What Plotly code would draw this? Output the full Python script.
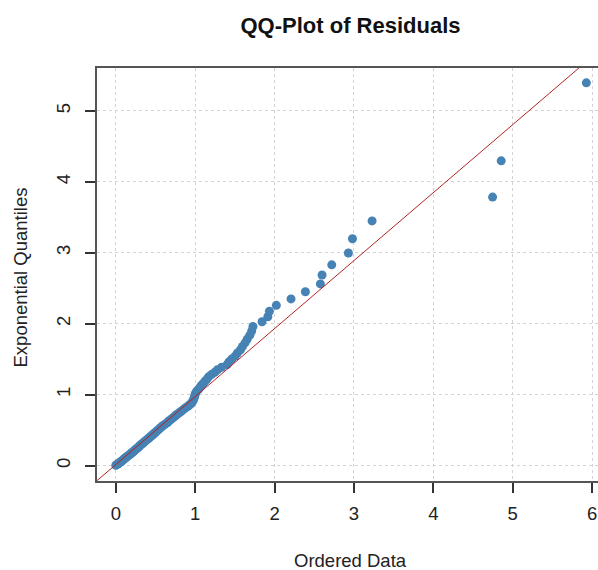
import plotly.graph_objects as go

# Ordered residuals (x) vs theoretical exponential quantiles (y)
ordered_data = [
    0.000, 0.012, 0.025, 0.038, 0.047, 0.058, 0.071, 0.080, 0.092, 0.101,
    0.113, 0.122, 0.135, 0.146, 0.158, 0.170, 0.183, 0.196, 0.205, 0.218,
    0.230, 0.238, 0.252, 0.265, 0.279, 0.290, 0.297, 0.309, 0.322, 0.336,
    0.352, 0.362, 0.376, 0.389, 0.405, 0.417, 0.430, 0.446, 0.462, 0.474,
    0.489, 0.503, 0.519, 0.532, 0.548, 0.563, 0.581, 0.596, 0.618, 0.639,
    0.657, 0.672, 0.693, 0.711, 0.730, 0.752, 0.769, 0.792, 0.817, 0.838,
    0.862, 0.884, 0.912, 0.935, 0.954, 0.968, 0.979, 0.986, 0.993, 0.998,
    1.006, 1.019, 1.042, 1.061, 1.078, 1.102, 1.123, 1.148, 1.169, 1.204,
    1.247, 1.281, 1.333, 1.402, 1.425, 1.461, 1.503, 1.532, 1.571, 1.596,
    1.628, 1.655, 1.688, 1.712, 1.728, 1.842, 1.915, 1.935, 2.022, 2.207,
    2.388, 2.577, 2.598, 2.720, 2.930, 2.981, 3.228, 4.746, 4.855, 5.927,
]
exp_quantiles = [
    0.0045, 0.0137, 0.0230, 0.0324, 0.0418, 0.0513, 0.0609, 0.0706, 0.0804, 0.0903,
    0.1003, 0.1104, 0.1206, 0.1310, 0.1414, 0.1519, 0.1625, 0.1733, 0.1842, 0.1951,
    0.2063, 0.2175, 0.2289, 0.2404, 0.2520, 0.2637, 0.2756, 0.2877, 0.2999, 0.3122,
    0.3247, 0.3374, 0.3502, 0.3632, 0.3764, 0.3897, 0.4032, 0.4169, 0.4308, 0.4449,
    0.4592, 0.4737, 0.4884, 0.5033, 0.5184, 0.5338, 0.5495, 0.5653, 0.5815, 0.5979,
    0.6145, 0.6315, 0.6487, 0.6663, 0.6841, 0.7023, 0.7208, 0.7397, 0.7589, 0.7785,
    0.7985, 0.8189, 0.8398, 0.8610, 0.8828, 0.9050, 0.9277, 0.9510, 0.9748, 0.9992,
    1.0242, 1.0498, 1.0762, 1.1032, 1.1310, 1.1595, 1.1890, 1.2193, 1.2505, 1.2828,
    1.3161, 1.3506, 1.3863, 1.4234, 1.4618, 1.5018, 1.5435, 1.5870, 1.6324, 1.6801,
    1.7301, 1.7827, 1.8383, 1.8971, 1.9597, 2.0264, 2.0978, 2.1748, 2.2582, 2.3491,
    2.4492, 2.5604, 2.6856, 2.8287, 2.9958, 3.1964, 3.4477, 3.7842, 4.2950, 5.3936,
]

ref_intercept = 0.015
ref_slope = 0.958

x_ticks = [0, 1, 2, 3, 4, 5, 6]
y_ticks = [0, 1, 2, 3, 4, 5]
x_range = [-0.237, 6.074]
y_range = [-0.217, 5.603]

FONT = "Liberation Sans, Arial, sans-serif"
W, H = 598, 570
ML, MR, MT, MB = 97, 0, 68, 89
PW, PH = W - ML - MR, H - MT - MB

line_x = [x_range[0], x_range[1]]
line_y = [ref_intercept + ref_slope * v for v in line_x]

fig = go.Figure()
fig.add_trace(go.Scatter(
    x=ordered_data, y=exp_quantiles, mode="markers",
    marker=dict(color="#4682B4", size=9, line=dict(width=0)),
    showlegend=False, hoverinfo="x+y",
))
fig.add_trace(go.Scatter(
    x=line_x, y=line_y, mode="lines",
    line=dict(color="#B22222", width=1),
    showlegend=False, hoverinfo="skip",
))

fig.update_layout(
    width=W, height=H,
    margin=dict(l=ML, r=MR, t=MT, b=MB),
    paper_bgcolor="white", plot_bgcolor="white",
    font=dict(family=FONT, color="#222222"),
    title=dict(text="<b>QQ-Plot of Residuals</b>", x=350.5 / W, xanchor="center",
               y=1 - 25.3 / H, yanchor="middle",
               font=dict(family=FONT, size=22, color="#111111")),
    xaxis=dict(
        range=x_range, tickvals=x_ticks, ticktext=[str(t) for t in x_ticks],
        showgrid=True, gridcolor="#d3d3d3", griddash="dot", gridwidth=1,
        zeroline=False, showline=True, linecolor="#555555", linewidth=1.5,
        mirror=True, ticks="outside", ticklen=10, tickwidth=1.5, tickcolor="#333333",
        tickfont=dict(size=18.5, color="#222222"), ticklabelstandoff=5,
    ),
    yaxis=dict(
        range=y_range, tickvals=y_ticks, ticktext=[str(t) for t in y_ticks],
        showgrid=True, gridcolor="#d3d3d3", griddash="dot", gridwidth=1,
        zeroline=False, showline=True, linecolor="#555555", linewidth=1.5,
        mirror=False, ticks="outside", ticklen=10, tickwidth=1.5, tickcolor="#333333",
        tickangle=-90, tickfont=dict(size=18.5, color="#222222"), ticklabelstandoff=8,
    ),
    annotations=[
        dict(text="Ordered Data", xref="paper", yref="paper",
             x=(350.5 - ML) / PW, y=-(560.5 - (MT + PH)) / PH,
             xanchor="center", yanchor="middle", showarrow=False,
             font=dict(family=FONT, size=18.5, color="#222222")),
        dict(text="Exponential Quantiles", xref="paper", yref="paper",
             x=(19.5 - ML) / PW, y=1 - (278 - MT) / PH, textangle=-90,
             xanchor="center", yanchor="middle", showarrow=False,
             font=dict(family=FONT, size=18.5, color="#222222")),
    ],
)

fig.write_html("out.html")
